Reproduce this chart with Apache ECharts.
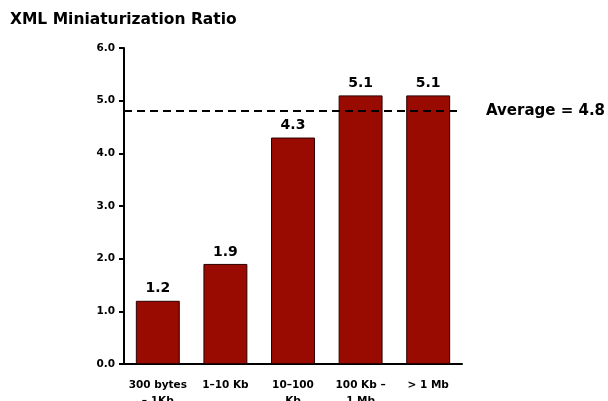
<!DOCTYPE html>
<html>
<head>
<meta charset="utf-8">
<script src="https://cdn.jsdelivr.net/npm/echarts@6/dist/echarts.min.js"></script>
<style>
  html, body { margin: 0; padding: 0; background: #fff; }
  #chart { width: 608px; height: 401px; }
</style>
</head>
<body>
<div id="chart"></div>
<script>
// Document size buckets and their miniaturization ratios
const categories = ['300 bytes\n– 1Kb', '1–10 Kb', '10–100\nKb', '100 Kb –\n1 Mb', '> 1 Mb'];
const ratios = [1.2, 1.9, 4.3, 5.1, 5.1];
const average = 4.8;
const yTicks = { min: 0, max: 6, interval: 1 };

const FONT = 'DejaVu Sans, Liberation Sans, sans-serif';
const chart = echarts.init(document.getElementById('chart'), null, { renderer: 'canvas' });

chart.setOption({
  animation: false,
  backgroundColor: '#ffffff',
  title: {
    text: 'XML Miniaturization Ratio',
    left: 5,
    top: 7,
    textStyle: { fontFamily: FONT, fontSize: 15.5, fontWeight: 'bold', color: '#000' }
  },
  grid: {
    left: 124, right: 146, top: 48, bottom: 37,
    containLabel: false,
    outerBoundsMode: 'none'
  },
  xAxis: {
    type: 'category',
    data: categories,
    axisLine: { lineStyle: { color: '#000', width: 2 } },
    axisTick: { show: false },
    axisLabel: {
      interval: 0,
      margin: 13,
      fontFamily: FONT,
      fontSize: 10.5,
      fontWeight: 'bold',
      color: '#000',
      lineHeight: 16
    }
  },
  yAxis: {
    type: 'value',
    min: yTicks.min,
    max: yTicks.max,
    interval: yTicks.interval,
    splitLine: { show: false },
    axisLine: { show: true, lineStyle: { color: '#000', width: 2 } },
    axisTick: { show: true, inside: false, length: 5, lineStyle: { color: '#000', width: 2 } },
    axisLabel: {
      margin: 9,
      fontFamily: FONT,
      fontSize: 10.5,
      fontWeight: 'bold',
      color: '#000',
      formatter: v => v.toFixed(1)
    }
  },
  series: [{
    type: 'bar',
    data: ratios,
    barWidth: '65%',
    itemStyle: { color: '#990a00', borderColor: '#2a0000', borderWidth: 1 },
    label: {
      show: true,
      position: 'top',
      distance: 5,
      fontFamily: FONT,
      fontSize: 14,
      fontWeight: 'bold',
      color: '#000',
      formatter: p => p.value.toFixed(1)
    },
    markLine: {
      silent: true,
      symbol: ['none', 'none'],
      z: 10,
      lineStyle: { color: '#000', type: [8, 5], width: 2 },
      label: {
        show: true,
        position: 'end',
        distance: 24,
        fontFamily: FONT,
        fontSize: 15,
        fontWeight: 'bold',
        color: '#000',
        formatter: 'Average = ' + average.toFixed(1)
      },
      data: [{ yAxis: average }]
    }
  }]
});
</script>
</body>
</html>
